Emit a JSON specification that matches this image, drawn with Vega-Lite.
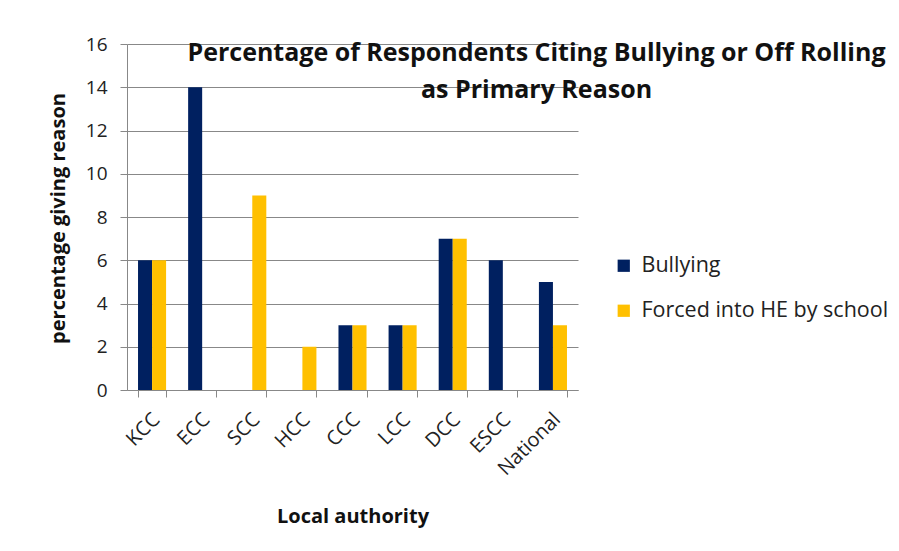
{
  "$schema": "https://vega.github.io/schema/vega-lite/v6.json",
  "autosize": {"type": "none"},
  "width": 451,
  "height": 346,
  "padding": {"left": 127, "top": 44, "right": 321, "bottom": 161},
  "background": "white",
  "config": {
    "font": "Open Sans",
    "view": {"stroke": null},
    "axis": {"labelColor": "#222", "titleColor": "#111"}
  },
  "title": {
    "text": ["Percentage of Respondents Citing Bullying or Off Rolling", "as Primary Reason"],
    "font": "Open Sans",
    "fontSize": 25,
    "fontWeight": "bold",
    "color": "#111",
    "anchor": "middle",
    "frame": "group",
    "dx": 184,
    "offset": -68,
    "lineHeight": 37
  },
  "data": {
    "values": [
      {"authority": "KCC", "reason": "Bullying", "pct": 6},
      {"authority": "KCC", "reason": "Forced into HE by school", "pct": 6},
      {"authority": "ECC", "reason": "Bullying", "pct": 14},
      {"authority": "ECC", "reason": "Forced into HE by school", "pct": 0},
      {"authority": "SCC", "reason": "Bullying", "pct": 0},
      {"authority": "SCC", "reason": "Forced into HE by school", "pct": 9},
      {"authority": "HCC", "reason": "Bullying", "pct": 0},
      {"authority": "HCC", "reason": "Forced into HE by school", "pct": 2},
      {"authority": "CCC", "reason": "Bullying", "pct": 3},
      {"authority": "CCC", "reason": "Forced into HE by school", "pct": 3},
      {"authority": "LCC", "reason": "Bullying", "pct": 3},
      {"authority": "LCC", "reason": "Forced into HE by school", "pct": 3},
      {"authority": "DCC", "reason": "Bullying", "pct": 7},
      {"authority": "DCC", "reason": "Forced into HE by school", "pct": 7},
      {"authority": "ESCC", "reason": "Bullying", "pct": 6},
      {"authority": "ESCC", "reason": "Forced into HE by school", "pct": 0},
      {"authority": "National", "reason": "Bullying", "pct": 5},
      {"authority": "National", "reason": "Forced into HE by school", "pct": 3}
    ]
  },
  "mark": {"type": "bar"},
  "encoding": {
    "x": {
      "field": "authority",
      "type": "nominal",
      "sort": ["KCC", "ECC", "SCC", "HCC", "CCC", "LCC", "DCC", "ESCC", "National"],
      "scale": {"paddingInner": 0.44, "paddingOuter": 0.22},
      "axis": {
        "title": "Local authority",
        "titleFontSize": 20,
        "titleFontWeight": "bold",
        "titleY": 126,
        "titleBaseline": "middle",
        "labelAngle": -45,
        "labelAlign": "right",
        "labelBaseline": "middle",
        "labelFontSize": 20,
        "labelPadding": 19,
        "labelOffset": 4,
        "tickBand": "extent",
        "tickSize": 7,
        "tickColor": "#888",
        "domainColor": "#888",
        "grid": false
      }
    },
    "xOffset": {"field": "reason", "type": "nominal", "sort": ["Bullying", "Forced into HE by school"]},
    "y": {
      "field": "pct",
      "type": "quantitative",
      "scale": {"domain": [0, 16], "nice": false},
      "axis": {
        "title": "percentage giving reason",
        "titleFontSize": 20,
        "titleFontWeight": "bold",
        "titleX": -69,
        "titleY": 174,
        "titleAngle": -90,
        "titleAlign": "center",
        "titleBaseline": "middle",
        "values": [0, 2, 4, 6, 8, 10, 12, 14, 16],
        "labelFontSize": 19,
        "labelPadding": 13,
        "tickSize": 7,
        "tickColor": "#888",
        "domainColor": "#888",
        "grid": true,
        "gridColor": "#888"
      }
    },
    "color": {
      "field": "reason",
      "type": "nominal",
      "scale": {"domain": ["Bullying", "Forced into HE by school"], "range": ["#002060", "#ffc000"]},
      "legend": {
        "title": null,
        "orient": "none",
        "legendX": 486,
        "legendY": 211,
        "symbolType": "square",
        "symbolSize": 150,
        "symbolStrokeWidth": 0,
        "labelFontSize": 21.5,
        "labelColor": "#222",
        "labelLimit": 400,
        "rowPadding": 22,
        "labelOffset": 7
      }
    }
  }
}
